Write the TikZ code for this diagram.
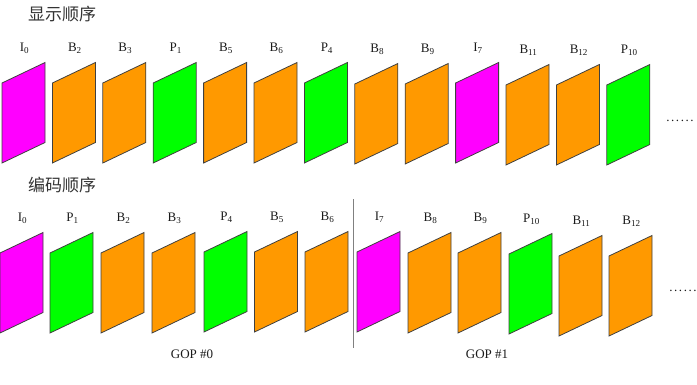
\documentclass[tikz,border=0pt]{standalone}
\usepackage{fontspec}
\setmainfont{Liberation Serif}
\newfontfamily\cjk{Noto Sans CJK SC}
\definecolor{cI}{HTML}{FF00FF}
\definecolor{cB}{HTML}{FF9900}
\definecolor{cP}{HTML}{00FF00}
\definecolor{edge}{HTML}{404040}
\definecolor{txt}{HTML}{1A1A1A}
\definecolor{ttl}{HTML}{333333}
\newcommand\frm[5]{%
  \filldraw[framebox, fill=#4] (#2,#3) -- ++(0,-80) -- ++(43,-20.5) -- ++(0,80) -- cycle;
  \node[lbl] (#1) at (#2+22.5,#3-115) {#5};
}
\newcommand\sub[2]{#1\textsubscript{#2}}
\newcommand\mydots{.\kern1.6pt.\kern1.6pt.\kern1.6pt.\kern1.6pt.\kern1.6pt.}
\begin{document}
\begin{tikzpicture}[x=1pt,y=-1pt,
  framebox/.style={draw=edge, line width=0.8pt, line join=miter},
  lbl/.style={text=txt, font=\fontsize{13}{15}\selectfont, inner sep=0pt},
  ttlstyle/.style={text=ttl, font=\cjk\fontsize{17}{19}\selectfont, inner sep=0pt},
  divider/.style={draw=gray, line width=1pt}]
\useasboundingbox (0,0) rectangle (697,384);
% titles
\node[ttlstyle] (t1) at (62,14) {显示顺序};
\node[ttlstyle] (t2) at (62,185) {编码顺序};
% top row: display order
\frm{a1}{2}{163}{cI}{\sub{I}{0}}
\frm{a2}{52.4}{163}{cB}{\sub{B}{2}}
\frm{a3}{102.8}{163}{cB}{\sub{B}{3}}
\frm{a4}{153.2}{163}{cP}{\sub{P}{1}}
\frm{a5}{203.6}{163}{cB}{\sub{B}{5}}
\frm{a6}{254}{163}{cB}{\sub{B}{6}}
\frm{a7}{304.4}{163}{cP}{\sub{P}{4}}
\frm{a8}{354.8}{164}{cB}{\sub{B}{8}}
\frm{a9}{405.2}{164}{cB}{\sub{B}{9}}
\frm{a10}{455.6}{163}{cI}{\sub{I}{7}}
\frm{a11}{506}{165}{cB}{\sub{B}{11}}
\frm{a12}{556.4}{165}{cB}{\sub{B}{12}}
\frm{a13}{606.8}{165}{cP}{\sub{P}{10}}
\node[lbl] (d1) at (680,120.5) {\mydots};
% bottom row: coding order
\frm{b1}{0}{333}{cI}{\sub{I}{0}}
\frm{b2}{50}{333}{cP}{\sub{P}{1}}
\frm{b3}{101}{333}{cB}{\sub{B}{2}}
\frm{b4}{152}{333}{cB}{\sub{B}{3}}
\frm{b5}{204}{332}{cP}{\sub{P}{4}}
\frm{b6}{254.5}{332}{cB}{\sub{B}{5}}
\frm{b7}{305}{332}{cB}{\sub{B}{6}}
\frm{b8}{357}{332}{cI}{\sub{I}{7}}
\frm{b9}{408}{333}{cB}{\sub{B}{8}}
\frm{b10}{458}{333}{cB}{\sub{B}{9}}
\frm{b11}{509}{334}{cP}{\sub{P}{10}}
\frm{b12}{559}{336}{cB}{\sub{B}{11}}
\frm{b13}{609}{336}{cB}{\sub{B}{12}}
\node[lbl] (d2) at (683,290.5) {\mydots};
% divider
\coordinate (v1) at (353,199);
\coordinate (v2) at (353,348);
\draw[divider] (v1) -- (v2);
% GOP labels
\node[lbl] (g0) at (192,354) {GOP \#0};
\node[lbl] (g1) at (487,354) {GOP \#1};
\end{tikzpicture}
\end{document}
